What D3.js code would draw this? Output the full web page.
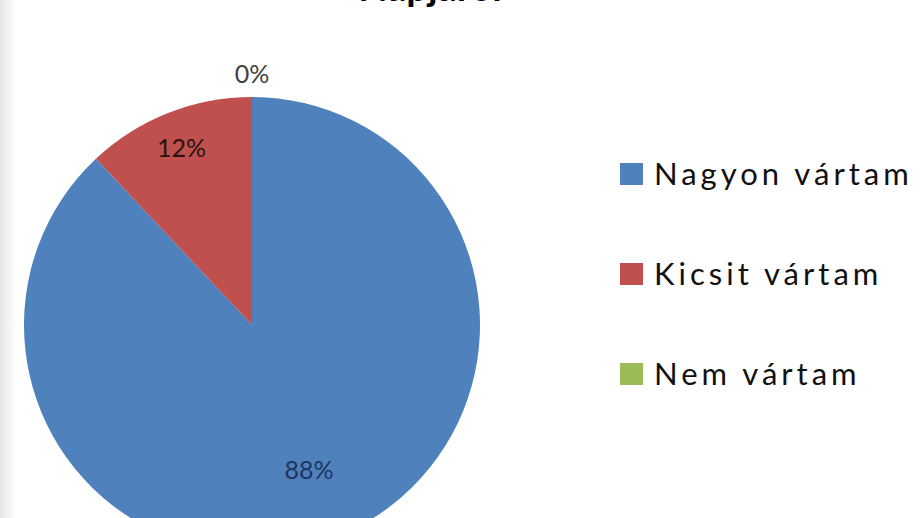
<!DOCTYPE html>
<html>
<head>
<meta charset="utf-8">
<script src="https://cdn.jsdelivr.net/npm/d3@7"></script>
<style>
  html, body { margin: 0; padding: 0; background: #ffffff; }
  svg { display: block; }
</style>
</head>
<body>
<svg id="chart" width="924" height="518"></svg>
<script>
const title = "Napjáról";
const categories = ["Nagyon vártam", "Kicsit vártam", "Nem vártam"];
const values = [88, 12, 0];
const labels = ["88%", "12%", "0%"];
const colors = ["#4f81bd", "#c0504d", "#9bbb59"];

const svg = d3.select("#chart");
const W = 924, H = 518;
const font = "Lato, 'Open Sans', sans-serif";

// faint left-edge shading
const defs = svg.append("defs");
const grad = defs.append("linearGradient").attr("id", "edge").attr("x1", 0).attr("x2", 1);
grad.append("stop").attr("offset", 0).attr("stop-color", "#e6e6e6");
grad.append("stop").attr("offset", 1).attr("stop-color", "#ffffff");
svg.append("rect").attr("x", 0).attr("y", 0).attr("width", 16).attr("height", H).attr("fill", "url(#edge)");

// title (cropped at the top edge, as in the reference)
svg.append("text")
  .attr("x", 430).attr("y", 1)
  .attr("text-anchor", "middle")
  .attr("font-family", font).attr("font-weight", "bold")
  .attr("font-size", 38).attr("fill", "#000")
  .text(title);

const cx = 252, cy = 325, R = 228;
const data = categories.map((c, i) => ({ name: c, value: values[i], label: labels[i], color: colors[i] }));

const pie = d3.pie().sort(null).value(d => d.value);
const arcs = pie(data);
const arc = d3.arc().innerRadius(0).outerRadius(R);

const g = svg.append("g").attr("transform", `translate(${cx},${cy})`);
g.selectAll("path").data(arcs).join("path")
  .attr("d", arc)
  .attr("fill", d => d.data.color);

function labelRadius(d) {
  if (d.data.value === 0) return R + 24;
  if (d.data.value < 20) return R * 0.84;
  return R * 0.68;
}
g.selectAll("text.lbl").data(arcs).join("text")
  .attr("class", "lbl")
  .attr("transform", d => {
    const r = labelRadius(d);
    const c = d3.arc().innerRadius(r).outerRadius(r).centroid(d);
    return `translate(${c[0]},${c[1]})`;
  })
  .attr("text-anchor", "middle")
  .attr("dominant-baseline", "central")
  .attr("font-family", font)
  .attr("font-size", 25)
  .attr("fill", d => d.data.value === 0 ? "#404040" : (d.data.value < 20 ? "#2a1212" : "#1f3560"))
  .text(d => d.data.label);

// legend
const ly = d3.scalePoint().domain(categories).range([174, 374]);
const lg = svg.append("g");
const items = lg.selectAll("g").data(data).join("g")
  .attr("transform", d => `translate(620,${ly(d.name)})`);
items.append("rect")
  .attr("x", 0).attr("y", -11).attr("width", 23).attr("height", 22)
  .attr("fill", d => d.color);
items.append("text")
  .attr("x", 34).attr("y", 11)
  .attr("font-family", font)
  .attr("font-size", 31)
  .attr("letter-spacing", 4)
  .attr("fill", "#111")
  .text(d => d.name);
</script>
</body>
</html>
